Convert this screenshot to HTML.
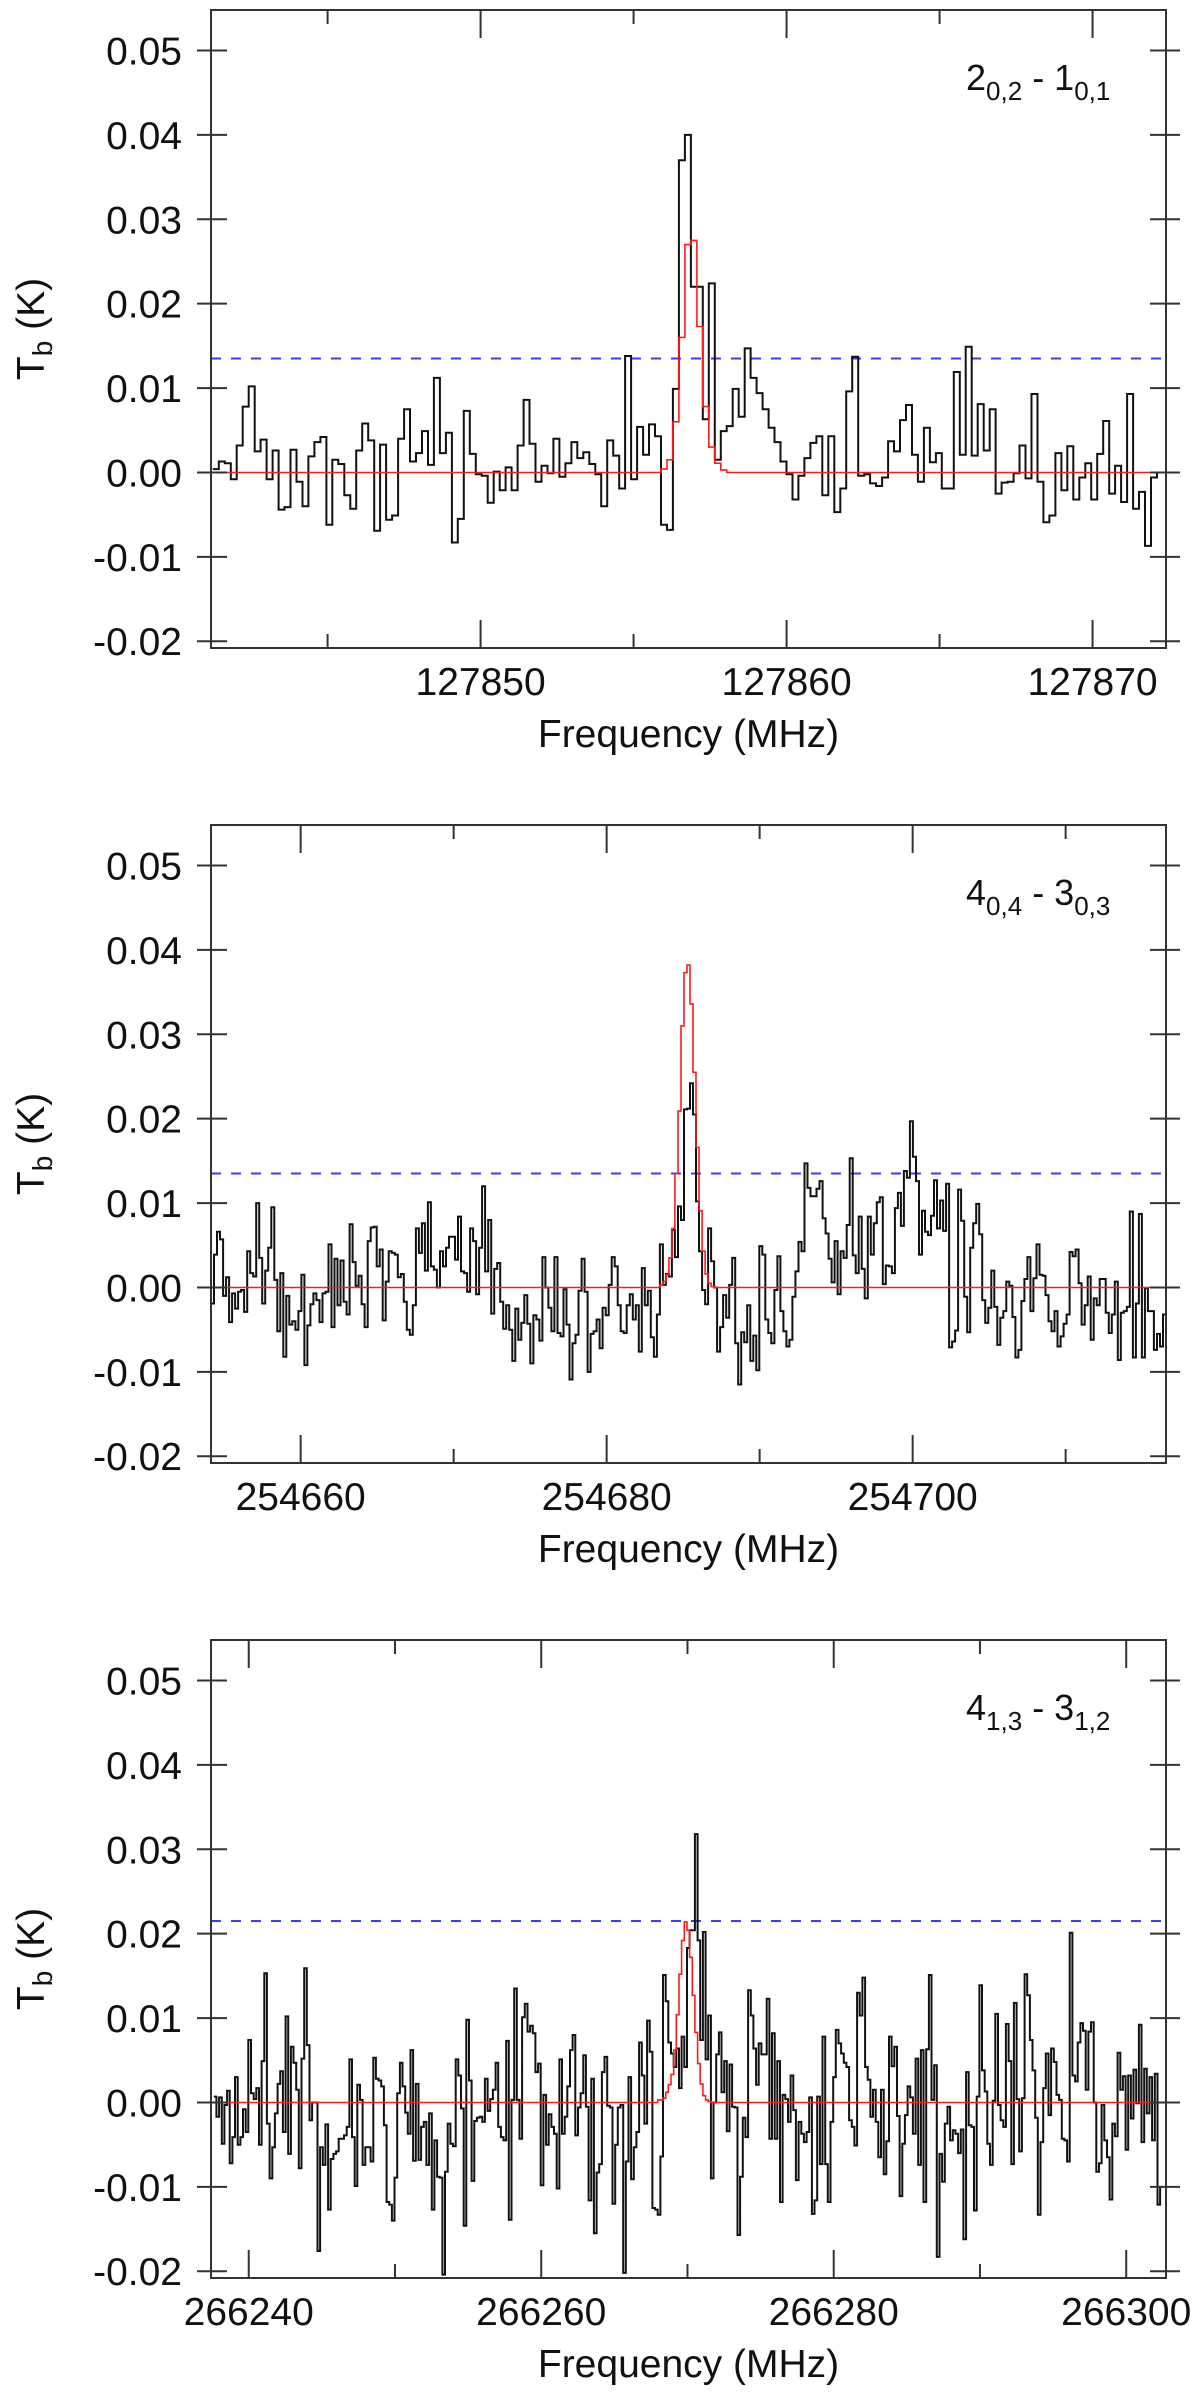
<!DOCTYPE html>
<html><head><meta charset="utf-8"><style>
html,body{margin:0;padding:0;background:#fff;}
svg{display:block;}
text{font-family:"Liberation Sans",sans-serif;fill:#111;}
</style></head>
<body>
<svg id="fig" width="1200" height="2401" viewBox="0 0 1200 2401" xmlns="http://www.w3.org/2000/svg"></svg>
<script>
// ---------- data (brightness temperature in mK) ----------
const yTickValues = [0.05, 0.04, 0.03, 0.02, 0.01, 0.00, -0.01, -0.02];
const yTickLabels = ["0.05", "0.04", "0.03", "0.02", "0.01", "0.00", "-0.01", "-0.02"];

const p1XTicks = [127850, 127860, 127870];
const p1XMinor = [127845, 127855, 127865];
const p1Label = ["2", "0,2", "1", "0,1"];
const p1Threshold = 0.0135;
const p1Start = 127841.25;
const p1Values = [0.4,1.3,1.1,-0.8,3.2,7.8,10.2,2.5,3.9,-0.8,2.6,-4.4,-4.1,2.7,-1.1,-4.0,1.9,3.6,4.2,-6.2,1.5,1.0,-2.7,-4.3,2.6,5.8,3.8,-6.9,3.3,-5.6,-5.1,4.0,7.5,1.3,2.3,4.9,0.9,11.2,2.3,4.7,-8.3,-5.5,7.3,2.2,-0.2,-0.4,-3.6,0.1,-2.1,0.6,-2.1,3.2,8.6,3.4,-1.1,0.8,-0.1,4.0,-0.5,1.1,3.6,1.7,2.4,1.0,-0.2,-4.0,3.8,2.0,-1.9,13.8,-0.8,5.4,2.1,5.7,4.3,-6.2,-6.8,9.9,37,40,22,22,6.3,22.4,1.5,4.9,5.5,9.9,6.6,14.7,11.2,9.4,7.5,5.3,3.6,1.3,-0.2,-3.2,-0.4,1.7,3.5,4.3,-2.7,4.3,-4.7,-1.9,9.6,13.7,-0.4,-0.2,-1.3,-1.6,-0.6,3.7,2.5,6.2,8.0,2.1,-1.1,5.3,1.2,2.3,-1.9,-1.9,11.9,2.1,14.9,2.0,8.1,2.6,7.5,-2.5,-1.2,-1.1,-0.1,3.2,-0.7,9.3,-1.1,-5.9,-5.1,2.3,-2.1,3.1,-3.2,-0.6,1.1,-3.2,2.2,6.1,-2.5,0.8,-3.5,9.3,-4.3,-2.3,-8.7,-0.6,0.0];
const p1ModelOffset = 75;
const p1Model = [0.4,1.5,6.0,16,27,27.5,17.3,7.8,3.0,1.1,0.3];

const p2XTicks = [254660, 254680, 254700];
const p2XMinor = [254670, 254690, 254710];
const p2Label = ["4", "0,4", "3", "0,3"];
const p2Threshold = 0.0135;
const p2Start = 254654.14;
const p2Values = [-1.9,3.9,6.6,5.7,-1.0,1.2,-4.1,-0.7,-2.5,-0.5,-0.3,-2.9,4.3,1.7,1.3,10.0,3.5,-1.9,2.0,4.7,9.5,0.9,-5.2,1.7,-8.2,-1.0,-4.4,-4.0,-5.0,-2.8,1.5,-9.2,-4.5,-2.0,-0.7,-1.5,-4.1,-0.7,-0.5,5.1,-4.7,3.4,-2.1,3.2,-1.7,-3.2,7.5,3.0,0.2,1.4,-2.0,-4.7,5.5,7.1,7.2,2.5,4.5,-3.9,0.7,4.3,4.1,3.9,1.2,1.6,-1.7,-5.0,-5.6,-2.1,7.0,4.1,7.6,2.0,10.1,2.5,2.1,0,4.3,2.5,4.7,6.0,6.0,3.3,8.4,1.9,1.7,-0.5,7.0,5.5,-0.8,4.7,12.0,1.9,8.0,-3.1,2.2,2.9,-1.7,-4.9,-2.1,-5.0,-8.7,-2.5,-6.2,-4.2,-0.9,-4.3,-9.0,-3.3,-3.8,-6.3,3.6,0,-2.4,-5.2,3.6,-5.4,-5.8,-0.2,-4.4,-10.9,-6.6,-5.6,-0.4,3.4,-0.5,-10.0,-5.5,-5.2,-3.8,-7.2,-2.4,-3.3,0.3,3.6,2.5,-2.1,-5.2,-5.4,-2.1,-0.8,-3.8,-2.1,-7.6,2.3,-2.1,-0.4,-5.9,-8.2,-3.2,5.1,0.3,1.6,1.3,6.8,3.6,9.6,8.0,21.1,21.2,24.2,20.5,10.2,4.3,-0.3,-2.0,7.0,3.1,0,-7.6,-4.7,-0.9,-3.6,0.3,3.5,-6.6,-11.5,-5.3,-6.5,-2.1,-8.7,-5.7,-9.8,4.9,3.9,-3.8,-5.4,-6.6,-0.3,3.7,-2.8,-5.2,-7.0,-6.2,-1.1,1.9,5.4,4.3,14.7,11.8,10.8,10.8,11.7,12.6,8.2,6.4,3.4,0.6,5.5,-0.8,4.3,3.5,7.4,15.3,3.8,1.7,8.4,2.2,-1.3,8.4,3.9,7.6,10.1,10.7,0.4,2.6,2.5,1.7,9.4,11.2,7.3,13.8,13.0,19.7,15.5,12.6,3.9,9.1,6.6,6.2,8.5,12.7,7.0,10.3,6.7,12.3,-7.1,-6.4,-5.1,11.6,7.9,-1.1,-5.3,4.7,7.6,9.9,6.3,-1.5,-4.2,-2.4,2.0,-2.3,-6.8,-3.6,-2.8,0.7,0.2,-3.5,-8.3,-7.4,-1.6,1.0,3.6,-2.8,1.1,5.1,1.5,1.4,-0.9,-4.0,-5.2,-2.8,-7.0,-5.8,-4.3,-3.2,4.2,3.7,4.5,0.5,-4.4,-2.1,1.3,-6.2,-1.3,-2.1,1.0,1.0,-3.0,-5.4,-3.2,0.7,-8.6,-3.0,-2.8,-2.3,9.0,-8.3,-1.9,8.7,-8.3,-0.1,-2.8,-2.8,-7.4,-5.5,-7.0,-3.2];
const p2ModelOffset = 149;
const p2Model = [0.3,0.7,1.5,3.5,7.0,13.5,20.9,31,37.3,38.2,33.6,25.5,16.6,9.1,4.3,1.6,0.5,0.1];

const p3XTicks = [266240, 266260, 266280, 266300];
const p3XMinor = [266250, 266270, 266290];
const p3Label = ["4", "1,3", "3", "1,2"];
const p3Threshold = 0.0215;
const p3Start = 266237.61;
const p3Values = [0.7,-1.7,0.6,-4.9,-0.3,1.4,-7.2,-4.1,3.0,-5.0,-4.1,-0.8,-3.5,7.4,1.1,0.4,1.7,-5.0,4.9,15.3,-2.5,-9.0,-5.3,-1.3,2.2,3.7,-3.5,10.2,-6.1,6.6,4.7,1.5,-7.8,5.2,15.9,6.8,-2.1,0,0,-17.6,-5.3,-7.4,-2.6,-12.7,-6.7,-6.1,-5.8,-4.3,-4.3,-3.9,-2.9,5.1,-4.1,-9.9,2.1,0.3,-7.4,-5.3,-5.3,-7.0,5.3,2.8,2.6,1.9,-2.7,-11.8,-12.1,-14.0,-8.9,1.1,4.7,1.9,-1.2,-3.7,6.2,-6.9,2.2,-6.8,-2.9,-2.3,-7.4,-1.3,-12.7,-4.5,-8.8,-8.9,-20.4,-8.2,-2.5,-4.9,-5.2,5.1,3.2,-0.7,-14.6,9.8,2.6,-9.3,-2.2,-1.8,-1.7,-2.3,2.8,-1.0,0.4,1.5,4.7,-2.9,-4.1,-4.5,7.3,-13.9,0.3,13.5,0.3,-4.3,10.1,11.7,8.4,9.1,8.2,3.6,4.6,-9.8,0.9,-5.0,-1.4,-2.9,-3.7,-10.2,5.1,-3.7,-1.7,1.9,6.2,8.0,-3.9,-0.6,1.1,5.6,-0.5,-11.6,2.8,-15.5,-8.3,-7.3,3.6,5.4,-0.4,-0.6,-12.0,-5.0,-0.6,-0.3,-20.2,-7.0,3.0,-9.1,-5.3,-3.5,7.1,3.2,-2.5,9.7,6.0,-12.5,-12.7,-13.3,-6.4,15.1,12.0,7.1,5.8,4.2,6.4,1.7,7.8,4.2,18.3,20.4,20.4,31.8,19.2,7.4,20.2,5.1,10.3,-9.0,0,5.7,8.3,1.2,4.9,-3.4,4.5,-0.5,-0.6,-15.7,-8.8,-1.8,-4.1,13.3,10.3,6.4,2.1,7.0,5.7,5.7,12.3,-4.3,8.2,-4.3,4.9,-11.8,0.9,0.4,-2.3,3.2,-0.9,-9.2,-2.3,-3.7,-4.7,-3.5,0.6,-13.2,-11.6,0.7,-7.3,7.8,-7.3,-11.8,-2.3,3.0,8.6,7.0,5.8,4.7,4.2,-2.1,-2.9,-5.1,13.0,10.3,14.8,4.2,2.7,-1.7,1.5,-2.3,-6.5,1.5,-8.5,-4.6,7.8,4.3,6.6,-1.6,-11.1,-4.9,-1.5,1.9,0.6,-3.7,5.2,-7.4,6.2,-11.8,6.3,15.1,0.3,4.4,-18.3,-6.1,-9.4,-2.5,-0.5,-4.5,-3.3,-3.7,-6.0,-3.2,-16.2,3.6,-2.7,-2.9,-12.8,0.7,13.9,3.8,1.3,-4.9,-7.4,0.2,10.5,-0.3,-2.1,-2.9,9.3,4.9,-7.3,11.8,0.4,-5.8,0.5,15.2,12.7,7.4,3.8,-1.8,-13.3,-4.7,1.7,5.8,-1.5,6.4,4.8,0.9,0.3,-4.3,-4.5,-7.0,20.1,3.2,2.5,7.1,9.4,8.5,1.5,8.4,9.5,0,-8.2,-7.2,-0.3,-4.5,-6.5,-11.5,-2.5,-4.0,5.9,1.5,3.1,-5.6,3.2,-1.9,3.9,-0.1,9.2,-4.7,4.0,-1.3,3.0,-4.5,3.4,-12.1,-10.0];
const p3ModelOffset = 167;
const p3Model = [0.3,0.3,0.5,1.2,2.1,3.3,6.2,10.4,15.2,19.2,21.4,20.4,17.2,12.7,8.3,4.6,2.2,0.8,0.3,0.1];

// ---------- layout ----------
const NS = "http://www.w3.org/2000/svg";
const svg = document.getElementById("fig");
const L = 211, R = 1166;
const YMIN = -0.0208, YMAX = 0.0548;

const panels = [
  {id: "p1", top: 10, xmin: 127841.19, xmax: 127872.40, start: p1Start, end: 127872.30, values: p1Values, model: p1Model, modelOffset: p1ModelOffset, ticks: p1XTicks, minor: p1XMinor, label: p1Label, thr: p1Threshold},
  {id: "p2", top: 825, xmin: 254654.14, xmax: 254716.56, start: p2Start, end: 254716.56, values: p2Values, model: p2Model, modelOffset: p2ModelOffset, ticks: p2XTicks, minor: p2XMinor, label: p2Label, thr: p2Threshold},
  {id: "p3", top: 1640, xmin: 266237.42, xmax: 266302.72, start: p3Start, end: 266302.5, values: p3Values, model: p3Model, modelOffset: p3ModelOffset, ticks: p3XTicks, minor: p3XMinor, label: p3Label, thr: p3Threshold}
];

function el(tag, attrs, parent) {
  const e = document.createElementNS(NS, tag);
  for (const k in attrs) e.setAttribute(k, attrs[k]);
  (parent || svg).appendChild(e);
  return e;
}

panels.forEach((p, pi) => {
  const T = p.top, B = p.top + 638;
  const X = f => L + (f - p.xmin) / (p.xmax - p.xmin) * (R - L);
  const Y = v => B - (v - YMIN) / (YMAX - YMIN) * (B - T);
  const g = el("g", {});
  
  

  const clip = el("clipPath", {id: "clip" + p.id}, g);
  el("rect", {x: L, y: T, width: R - L, height: B - T}, clip);

  // threshold dashed line
  const thr = el("line", {x1: L, x2: R, y1: Y(p.thr), y2: Y(p.thr), stroke: "#3a3aff", "stroke-width": 2, "stroke-dasharray": "10 10"}, g);
  
  

  // observed spectrum
  const n = p.values.length;
  const w = (p.end - p.start) / n;
  let d = "";
  for (let i = 0; i < n; i++) {
    const x0 = X(p.start + i * w), x1 = X(p.start + (i + 1) * w), y = Y(p.values[i] / 1000);
    d += (i === 0 ? "M" + x0.toFixed(1) + "," + y.toFixed(1) : "V" + y.toFixed(1)) + "H" + x1.toFixed(1);
  }
  const obs = el("path", {d: d, fill: "none", stroke: "#111", "stroke-width": 2, "clip-path": "url(#clip" + p.id + ")"}, g);
  
  

  // model
  const ms = p.start + p.modelOffset * w;
  let md = "M" + L + "," + Y(0).toFixed(1) + "H" + X(ms).toFixed(1);
  p.model.forEach((v, i) => {
    md += "V" + Y(v / 1000).toFixed(1) + "H" + X(ms + (i + 1) * w).toFixed(1);
  });
  md += "V" + Y(0).toFixed(1) + "H" + R;
  const mod = el("path", {d: md, fill: "none", stroke: "#ff1a1a", "stroke-width": 1.6, "clip-path": "url(#clip" + p.id + ")"}, g);
  
  

  // frame
  const fr = el("rect", {x: L, y: T, width: R - L, height: B - T, fill: "none", stroke: "#333", "stroke-width": 2}, g);
  
  

  // y ticks & labels
  yTickValues.forEach((v, i) => {
    const y = Y(v);
    el("line", {x1: L - 14, x2: L + 16, y1: y, y2: y, stroke: "#333", "stroke-width": 2}, g);
    el("line", {x1: R - 16, x2: R + 14, y1: y, y2: y, stroke: "#333", "stroke-width": 2}, g);
    const t = el("text", {x: 182, y: y + 14, "text-anchor": "end", "font-size": 39}, g);
    t.textContent = yTickLabels[i];
    
    
  });

  // x ticks
  p.ticks.forEach(f => {
    const x = X(f);
    el("line", {x1: x, x2: x, y1: B, y2: B - 28, stroke: "#333", "stroke-width": 2}, g);
    el("line", {x1: x, x2: x, y1: T, y2: T + 28, stroke: "#333", "stroke-width": 2}, g);
    const t = el("text", {x: x, y: B + 47, "text-anchor": "middle", "font-size": 39}, g);
    t.textContent = String(f);
    
    
  });
  p.minor.forEach(f => {
    const x = X(f);
    el("line", {x1: x, x2: x, y1: B, y2: B - 14, stroke: "#333", "stroke-width": 2}, g);
    el("line", {x1: x, x2: x, y1: T, y2: T + 14, stroke: "#333", "stroke-width": 2}, g);
  });

  // x title
  const xt = el("text", {x: (L + R) / 2, y: B + 99, "text-anchor": "middle", "font-size": 39}, g);
  xt.textContent = "Frequency (MHz)";
  
  

  // y title
  const cy = (T + B) / 2;
  const yt = el("text", {x: 0, y: 0, "text-anchor": "middle", "font-size": 39, transform: "translate(44," + cy + ") rotate(-90)"}, g);
  
  
  const s1 = el("tspan", {}, yt); s1.textContent = "T";
  const s2 = el("tspan", {"font-size": 28, dy: 8}, yt); s2.textContent = "b";
  const s3 = el("tspan", {dy: -8}, yt); s3.textContent = " (K)";

  // transition label
  const lb = el("text", {x: 966, y: T + 80, "font-size": 36}, g);
  
  
  const a = el("tspan", {}, lb); a.textContent = p.label[0];
  const b = el("tspan", {"font-size": 26, dy: 10}, lb); b.textContent = p.label[1];
  const c = el("tspan", {dy: -10}, lb); c.textContent = " - " + p.label[2];
  const e = el("tspan", {"font-size": 26, dy: 10}, lb); e.textContent = p.label[3];
});
</script>
</body></html>
